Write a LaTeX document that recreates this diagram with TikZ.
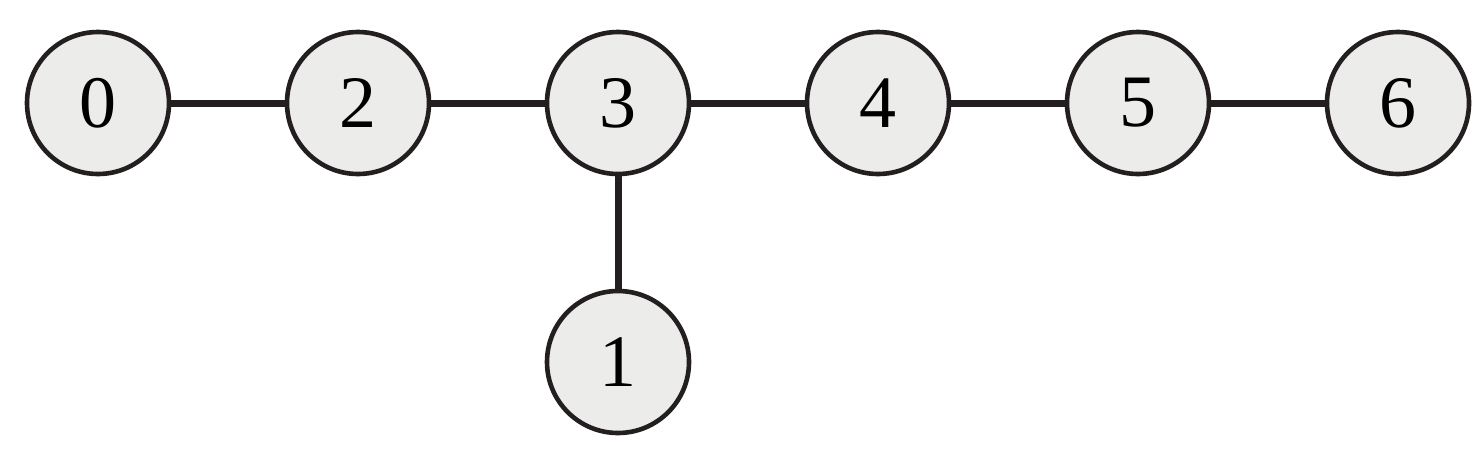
\documentclass[tikz,border=0pt]{standalone}
\usepackage{fontspec}
\setmainfont{Liberation Serif}
\begin{document}
\begin{tikzpicture}[x=0.5pt,y=-0.5pt,
  vert/.style={circle,draw=edgecol,fill=nodefill,line width=2.3pt,minimum size=71pt,inner sep=0pt,font=\fontsize{37}{42}\selectfont},
  link/.style={draw=edgecol,line width=3.5pt}]
\definecolor{edgecol}{HTML}{231F20}
\definecolor{nodefill}{HTML}{ECEDEB}
\useasboundingbox (0,0) rectangle (1481,456);
\node[vert] (n0) at (98,103) {0};
\node[vert] (n2) at (358,103) {2};
\node[vert] (n3) at (618,103) {3};
\node[vert] (n4) at (878,103) {4};
\node[vert] (n5) at (1138,103) {5};
\node[vert] (n6) at (1398,103) {6};
\node[vert] (n1) at (618,362) {1};
\draw[link] (n0) -- (n2);
\draw[link] (n2) -- (n3);
\draw[link] (n3) -- (n4);
\draw[link] (n4) -- (n5);
\draw[link] (n5) -- (n6);
\draw[link] (n3) -- (n1);
\end{tikzpicture}
\end{document}
